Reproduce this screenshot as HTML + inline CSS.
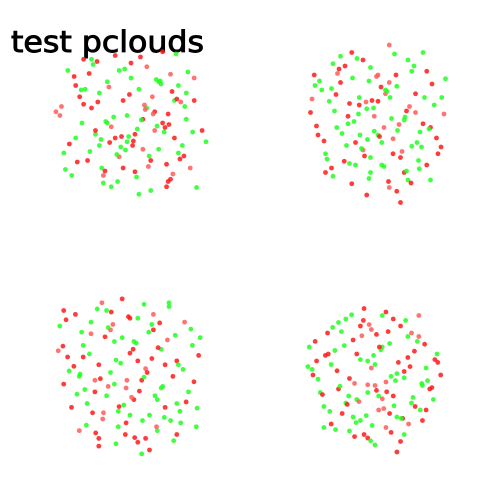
<!DOCTYPE html>
<html><head><meta charset="utf-8"><style>
html,body{margin:0;padding:0;background:#fff;}
svg{display:block;}
</style></head><body>
<svg id="chart" width="500" height="500">
<text x="11" y="52" font-family="'DejaVu Sans', 'Liberation Sans', sans-serif" font-size="29" stroke="#000" stroke-width="0.9" textLength="193" lengthAdjust="spacingAndGlyphs" fill="#000">test pclouds</text>
</svg>
<script>
// cloud-local coordinates in [-100,100]; c: 0 green, 1 red, 2 light red
const cloudAx = [-80,-60,-40,-20,0,20,40,60,80,-90,-70,-50,-30,-10,10,30,50,70,90,-85,-65,-45,-25,-5,15,35,55,75,-75,-55,-35,-15,5,25,45,65,-60,-30,0,30,60,-70,-40,-10,20,50,80,-50,-20,10,40,70,-35,-5,25,55,-45,-15,15,45,-25,5,35,-95,95,
 -72,-48,-28,-8,12,32,52,72,-88,-62,-42,-22,-2,18,38,58,78,-78,-52,-32,-12,8,28,48,68,-68,-38,-18,2,22,42,62,-58,-33,-13,7,27,47,-83,-17,3,23,43,63,83,-53,-3,37,-27,13,53,-43,33,-63,67,-7,17,-37,47,57,-23,27,-47,5,-15,73,-73,43,-57,87];
const cloudAy = [-70,-85,-40,-90,-60,-75,-95,-50,-30,-10,20,-20,-55,-30,-45,-15,-65,-5,10,40,-35,15,5,25,-5,35,20,60,70,50,80,45,65,90,55,30,-25,0,-80,10,40,-50,30,60,-20,75,-60,-85,20,95,0,-40,70,-10,50,-30,10,-70,35,85,85,15,-55,-15,25,
 -62,-78,-48,-72,-88,-58,-42,-68,-22,0,-28,-8,-38,-18,-52,-32,12,28,38,-2,18,8,-12,2,-22,52,22,42,30,58,12,48,-45,64,32,72,-35,-12,62,78,24,44,6,-28,86,-66,18,-56,26,-4,68,-82,4,-44,44,36,-24,60,78,-92,16,54,-72,-6,-36,82,92,58,-14,46];
const cloudAc = [0,1,0,1,0,2,1,0,1,2,0,1,0,1,0,1,2,0,1,0,1,0,2,0,1,0,1,2,0,1,0,2,1,0,1,0,1,0,1,2,0,1,0,1,0,1,2,0,1,0,1,0,2,0,1,0,1,0,2,1,0,1,0,2,0,
 1,0,2,0,1,0,1,0,2,0,1,0,1,2,0,1,0,1,0,0,1,0,2,1,0,1,0,0,1,2,0,1,0,1,0,0,2,1,0,0,1,0,1,2,0,1,0,0,1,0,2,1,0,0,1,0,2,0,1,0];

const cloudBx = [-85,-60,-35,-10,15,40,65,90,-75,-50,-25,0,25,50,75,-90,-65,-40,-15,10,35,60,85,-80,-55,-30,-5,20,45,70,-70,-45,-20,5,30,55,80,-60,-35,-10,15,40,65,-50,-25,0,25,50,-40,-15,10,35,-30,-5,20,45,-20,5,30,-10,15,60,-70,70,0,
 -78,-52,-28,-2,22,48,72,-88,-62,-38,-12,12,38,62,88,-82,-58,-32,-8,18,42,68,-72,-48,-22,2,28,52,78,-68,-42,-18,8,32,58,-62,-38,-12,14,38,-54,-26,4,26,54,-44,-16,16,44,-34,-6,24,-24,8,36,-56,56,-84,84,-14,14,46,-46,64,-64,6];
const cloudBy = [-60,-75,-90,-70,-100,-80,-65,-55,-40,-50,-30,-60,-45,-35,-20,-10,-25,-5,-15,-35,0,5,-30,20,10,30,15,25,35,10,45,55,40,60,50,65,45,75,85,70,90,80,60,-85,-20,20,95,-10,5,100,-40,70,60,-5,45,-65,-80,30,110,50,-50,-90,70,80,-25,
 -52,-68,-82,-58,-88,-72,-48,-28,-42,-22,-52,-38,-12,-30,-8,8,-12,2,-26,-2,-18,12,28,18,38,22,6,30,24,52,34,48,62,42,36,64,58,78,82,68,-62,-8,-44,14,54,-72,-24,-30,84,-56,-16,-60,20,10,-4,-34,16,-46,36,26,46,-78,4,-20,74,-92];
const cloudBc = [1,0,1,0,2,0,1,0,0,1,0,2,0,1,0,1,0,1,0,2,0,1,0,1,0,1,0,2,0,1,0,1,2,0,1,0,1,0,1,0,2,0,1,0,1,0,1,2,0,1,0,1,0,2,1,0,1,0,1,0,2,0,1,0,1,
 0,1,0,2,0,0,1,2,0,1,0,0,1,0,2,1,0,0,1,0,2,0,1,0,0,1,2,0,1,0,0,1,0,2,0,1,0,0,1,0,2,0,1,0,0,1,2,0,1,0,0,1,0,2,0,1,0,0,1,0];

const cloudCx = [-90,-70,-50,-30,-10,10,30,50,70,90,-80,-60,-40,-20,0,20,40,60,80,-85,-65,-45,-25,-5,15,35,55,75,-75,-55,-35,-15,5,25,45,65,-65,-40,-15,10,35,60,-50,-25,0,25,50,-40,-10,20,-30,0,30,-20,10,40,-60,60,-85,85,-5,5,-45,45,15,
 -82,-62,-42,-22,-2,18,38,58,78,-92,-72,-52,-32,-12,8,28,48,68,88,-78,-58,-38,-18,2,22,42,62,82,-68,-48,-28,-8,12,32,52,72,-56,-34,-6,16,44,-44,-18,6,34,56,-28,4,28,-14,18,-36,36,-64,64,-86,86,-24,24,-4,48,-48,12,-10,70];
const cloudCy = [-60,-75,-50,-80,-95,-70,-55,-85,-65,-45,-20,-35,-10,-40,-25,-5,-30,-15,-35,15,5,25,0,20,10,35,5,25,45,40,60,50,35,55,45,65,75,85,70,90,75,80,-65,-55,55,100,-90,95,-45,85,30,-70,-75,15,-15,20,-20,40,-80,70,65,-40,10,-10,105,
 -68,-52,-82,-62,-72,-88,-64,-48,-56,-28,-8,-24,-46,-12,-38,-18,-42,-4,-22,-2,22,8,-16,32,0,18,-10,12,28,52,18,42,24,30,62,38,68,52,80,62,58,78,92,84,70,88,-58,-30,-62,44,6,-90,-32,2,50,-34,46,-78,-52,10,14,74,46,26,74];
const cloudCc = [0,1,2,0,1,0,1,0,2,0,1,0,1,0,1,2,0,1,0,1,0,1,0,2,1,0,1,0,1,0,2,0,1,0,1,0,2,1,0,1,0,1,0,2,0,1,0,1,0,1,0,1,2,0,1,0,1,0,1,0,1,0,2,1,0,
 1,0,0,2,1,0,1,0,0,2,1,0,1,0,0,1,2,0,1,0,0,1,0,2,1,0,0,1,0,1,2,0,1,0,0,1,0,2,1,0,0,1,0,1,2,0,0,1,0,1,0,2,1,0,0,1,0,1,0,2];

const cloudDx = [-90,-65,-40,-15,10,35,60,85,-80,-55,-30,-5,20,45,70,-85,-60,-35,-10,15,40,65,90,-75,-50,-25,0,25,50,75,-70,-45,-20,5,30,55,80,-60,-35,-10,15,40,65,-50,-25,0,25,50,-40,-15,10,35,-30,-5,20,45,-20,5,30,-10,15,60,-70,70,0,
 -82,-58,-32,-8,18,42,68,-92,-68,-42,-18,8,32,58,82,-78,-52,-28,-2,22,48,72,-72,-48,-22,2,28,52,78,-62,-38,-12,12,38,62,-54,-28,-4,22,46,-46,-20,6,30,54,-36,-10,16,40,-26,2,26,-16,10,36,-64,64,-86,86,-6,20,-40,44,-56,4];
const cloudDy = [-40,-60,-80,-95,-85,-70,-55,-30,-20,-35,-50,-65,-45,-25,-10,0,-15,5,-20,10,-5,15,0,25,20,35,15,30,40,20,45,55,65,50,60,45,35,70,80,90,75,85,65,-75,-30,100,-80,-60,40,85,-40,95,60,-10,55,-55,-70,30,110,25,-90,-85,75,50,-15,
 -48,-68,-86,-72,-62,-78,-44,-12,-28,-42,-56,-36,-18,-48,-22,6,-6,12,-28,2,-12,8,28,16,38,22,8,32,18,52,42,58,48,62,50,78,88,72,82,70,-62,-22,-40,-2,-34,30,14,24,4,68,-58,44,-78,34,62,-30,12,-8,-18,94,66,-4,28,84,-50];
const cloudDc = [0,1,0,1,0,1,2,0,1,0,1,2,0,1,0,1,0,1,0,2,1,0,1,0,1,0,2,1,0,1,0,1,0,2,0,1,0,1,0,1,2,0,1,0,1,0,1,2,0,1,0,1,0,2,1,0,1,0,1,0,1,2,0,1,0,
 1,0,0,2,1,0,1,0,1,0,2,0,1,0,1,0,1,2,0,0,1,0,1,0,2,1,0,0,1,0,1,0,2,1,0,0,1,0,1,2,0,0,1,0,1,0,2,1,0,0,1,0,1,2,0,1,0,0,1,0];

const colors = ['#22ff22','#ff1a1a','#ff5a5a'];
const NS = 'http://www.w3.org/2000/svg';
const svg = document.getElementById('chart');

function makeScale(d0, d1, r0, r1){ return v => r0 + (v - d0) / (d1 - d0) * (r1 - r0); }

const panels = [
  {xs: cloudAx, ys: cloudAy, cs: cloudAc, x0: 52, x1: 210, y0: 48, y1: 198, name: 'cloud-top-left'},
  {xs: cloudBx, ys: cloudBy, cs: cloudBc, x0: 303, x1: 453, y0: 45, y1: 195, name: 'cloud-top-right'},
  {xs: cloudCx, ys: cloudCy, cs: cloudCc, x0: 52, x1: 208, y0: 295, y1: 450, name: 'cloud-bottom-left'},
  {xs: cloudDx, ys: cloudDy, cs: cloudDc, x0: 302, x1: 448, y0: 305, y1: 445, name: 'cloud-bottom-right'}
];

panels.forEach(p => {
  const g = document.createElementNS(NS, 'g');
  
  
  const sx = makeScale(-100, 100, p.x0, p.x1);
  const sy = makeScale(-100, 100, p.y0, p.y1);
  const n = Math.min(p.xs.length, p.ys.length, p.cs.length);
  for (let i = 0; i < n; i++) {
    const c = document.createElementNS(NS, 'circle');
    c.setAttribute('cx', sx(p.xs[i]));
    c.setAttribute('cy', sy(p.ys[i]));
    c.setAttribute('r', 2.4);
    c.setAttribute('fill', colors[p.cs[i]]);
    c.setAttribute('fill-opacity', 0.85);
    
    
    g.appendChild(c);
  }
  svg.appendChild(g);
});
</script>
</body></html>
